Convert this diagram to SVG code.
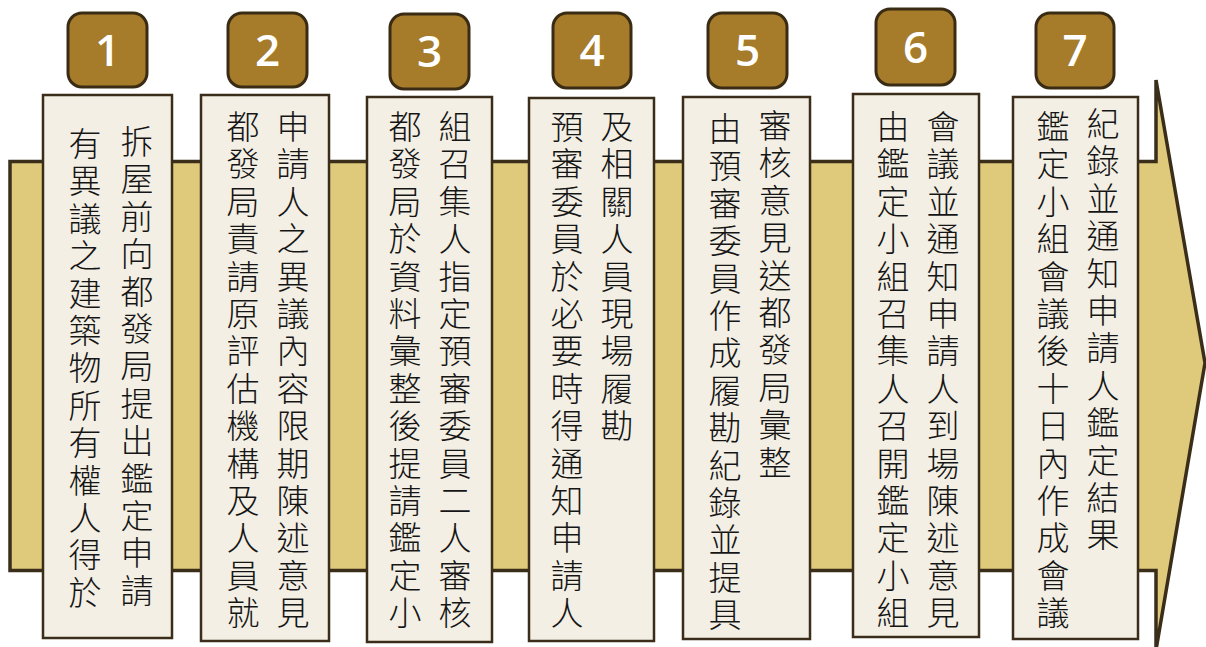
<svg xmlns="http://www.w3.org/2000/svg" width="1206" height="647" viewBox="0 0 1206 647">
<style>
.band{fill:#DFCA7C;stroke:#3A2E1A;stroke-width:3.5;stroke-linejoin:miter}
.box{fill:#F3EFE4;stroke:#3A2E1A;stroke-width:2.5}
.badge{fill:#A67B29;stroke:#3A2C14;stroke-width:3}
.num{font-family:"Open Sans","Liberation Sans",sans-serif;font-weight:600;font-size:44px;fill:#FFFFFF;text-anchor:middle}
.col{font-family:"Noto Sans CJK TC","Noto Sans CJK SC",sans-serif;font-weight:300;font-size:33px;fill:#151515;writing-mode:vertical-rl;letter-spacing:4.4px}
</style>
<rect width="1206" height="647" fill="#FFFFFF"/>
<g id="connectors">
<polygon class="band" points="10,161.5 1156,161.5 1156,80 1205,363 1156,650 1156,570.5 10,570.5"/>
</g>
<g id="step1">
<rect class="box" x="43" y="95" width="129" height="543"/>
<text class="col" x="137" y="125">拆屋前向都發局提出鑑定申請</text>
<text class="col" x="85" y="127">有異議之建築物所有權人得於</text>
<rect class="badge" x="68" y="13" width="79" height="74" rx="14"/>
<text class="num" x="107.5" y="66">1</text>
</g>
<g id="step2">
<rect class="box" x="201" y="95" width="128" height="546"/>
<text class="col" x="293" y="110">申請人之異議內容限期陳述意見</text>
<text class="col" x="243" y="110">都發局責請原評估機構及人員就</text>
<rect class="badge" x="228" y="13" width="79" height="74" rx="14"/>
<text class="num" x="267.5" y="66">2</text>
</g>
<g id="step3">
<rect class="box" x="367" y="97" width="125" height="545"/>
<text class="col" x="455" y="110">組召集人指定預審委員二人審核</text>
<text class="col" x="405" y="110">都發局於資料彙整後提請鑑定小</text>
<rect class="badge" x="390" y="14" width="79" height="75" rx="14"/>
<text class="num" x="429.5" y="67">3</text>
</g>
<g id="step4">
<rect class="box" x="529" y="98" width="125" height="543"/>
<text class="col" x="617" y="110">及相關人員現場履勘</text>
<text class="col" x="567" y="110">預審委員於必要時得通知申請人</text>
<rect class="badge" x="553" y="13" width="78" height="75" rx="14"/>
<text class="num" x="592" y="66">4</text>
</g>
<g id="step5">
<rect class="box" x="683" y="97" width="127" height="542"/>
<text class="col" x="775" y="109">審核意見送都發局彙整</text>
<text class="col" x="725" y="112">由預審委員作成履勘紀錄並提具</text>
<rect class="badge" x="708" y="13" width="79" height="75" rx="14"/>
<text class="num" x="747.5" y="66">5</text>
</g>
<g id="step6">
<rect class="box" x="853" y="94" width="126" height="543"/>
<text class="col" x="943" y="110">會議並通知申請人到場陳述意見</text>
<text class="col" x="893" y="110">由鑑定小組召集人召開鑑定小組</text>
<rect class="badge" x="876" y="9" width="79" height="76" rx="14"/>
<text class="num" x="915.5" y="63">6</text>
</g>
<g id="step7">
<rect class="box" x="1013" y="97" width="125" height="542"/>
<text class="col" x="1103" y="107">紀錄並通知申請人鑑定結果</text>
<text class="col" x="1053" y="110">鑑定小組會議後十日內作成會議</text>
<rect class="badge" x="1036" y="13" width="78" height="75" rx="14"/>
<text class="num" x="1075" y="66">7</text>
</g>
</svg>
